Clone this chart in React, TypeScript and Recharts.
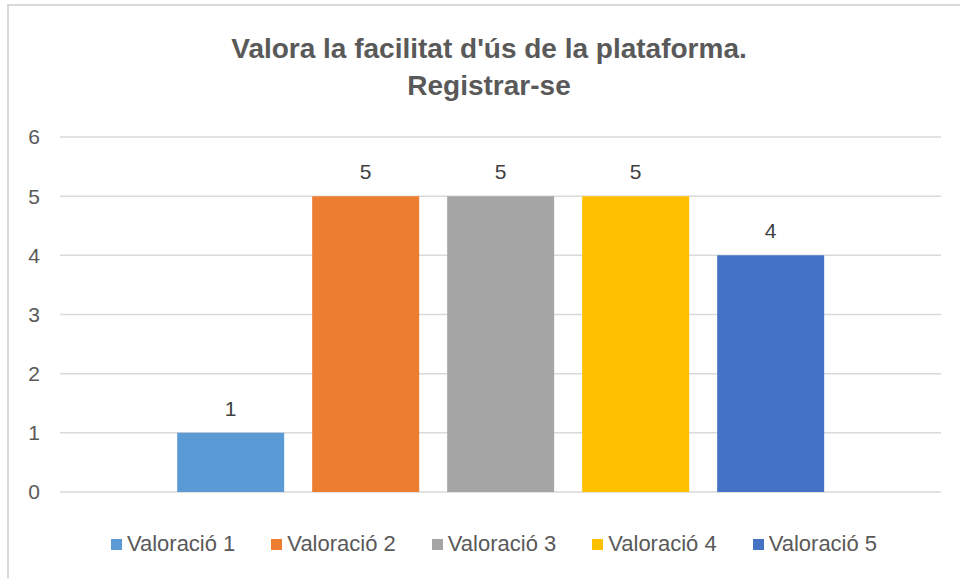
import { BarChart, Bar, XAxis, YAxis, CartesianGrid, Legend, LabelList } from 'recharts'

const CATEGORY = 'Registrar-se'
const SERIES = ['Valoració 1', 'Valoració 2', 'Valoració 3', 'Valoració 4', 'Valoració 5']
const VALUES = [1, 5, 5, 5, 4]
const COLORS = ['#5B9BD5', '#ED7D31', '#A5A5A5', '#FFC000', '#4472C4']
const Y_TICKS = [0, 1, 2, 3, 4, 5, 6]

const row: Record<string, string | number> = { name: CATEGORY }
SERIES.forEach((s, i) => { row[s] = VALUES[i] })
const data = [row]

const FONT = '"Liberation Sans", Arial, sans-serif'

function renderLegend(props: any) {
  const items = props.payload || []
  return (
    <div style={{ display: 'flex', justifyContent: 'center', gap: 36, fontFamily: FONT, fontSize: 22, color: '#595959' }}>
      {items.map((it: any) => (
        <div key={it.value} style={{ display: 'flex', alignItems: 'center' }}>
          <span style={{ width: 11, height: 11, background: it.color, marginRight: 5, display: 'inline-block' }} />
          <span>{it.value}</span>
        </div>
      ))}
    </div>
  )
}

export default function App() {
  return (
    <div style={{ position: 'absolute', left: 0, top: 0, width: 960, height: 578, background: '#fff', overflow: 'hidden' }}>
      <div style={{ position: 'absolute', left: 7, top: 4, width: 960, height: 580, borderTop: '2px solid #D9D9D9', borderLeft: '2px solid #D9D9D9' }} />
      <div style={{ position: 'absolute', left: 0, top: 30, width: 978, textAlign: 'center', fontFamily: FONT, fontWeight: 'bold', fontSize: 28, lineHeight: '37px', color: '#595959' }}>
        Valora la facilitat d'ús de la plataforma.<br />Registrar-se
      </div>
      <div style={{ position: 'absolute', left: 0, top: 0 }}>
        <BarChart width={960} height={578} data={data} margin={{ top: 137, right: 19, bottom: 60, left: 0 }}
          barCategoryGap="13.3%" barGap={28}>
          <CartesianGrid vertical={false} stroke="#D9D9D9" strokeWidth={1.5} />
          <XAxis dataKey="name" hide />
          <YAxis domain={[0, 6]} ticks={Y_TICKS} width={60} axisLine={false} tickLine={false} tickSize={0} tickMargin={20}
            tick={{ fill: '#595959', fontSize: 21, fontFamily: FONT }} />
          <Legend verticalAlign="bottom" content={renderLegend} wrapperStyle={{ top: 531, bottom: 'auto', left: 0, width: 988 }} />
          {SERIES.map((s, i) => (
            <Bar key={s} dataKey={s} fill={COLORS[i]} isAnimationActive={false}>
              <LabelList dataKey={s} position="top" offset={17} fill="#404040" fontSize={21} fontFamily={FONT} />
            </Bar>
          ))}
        </BarChart>
      </div>
    </div>
  )
}
